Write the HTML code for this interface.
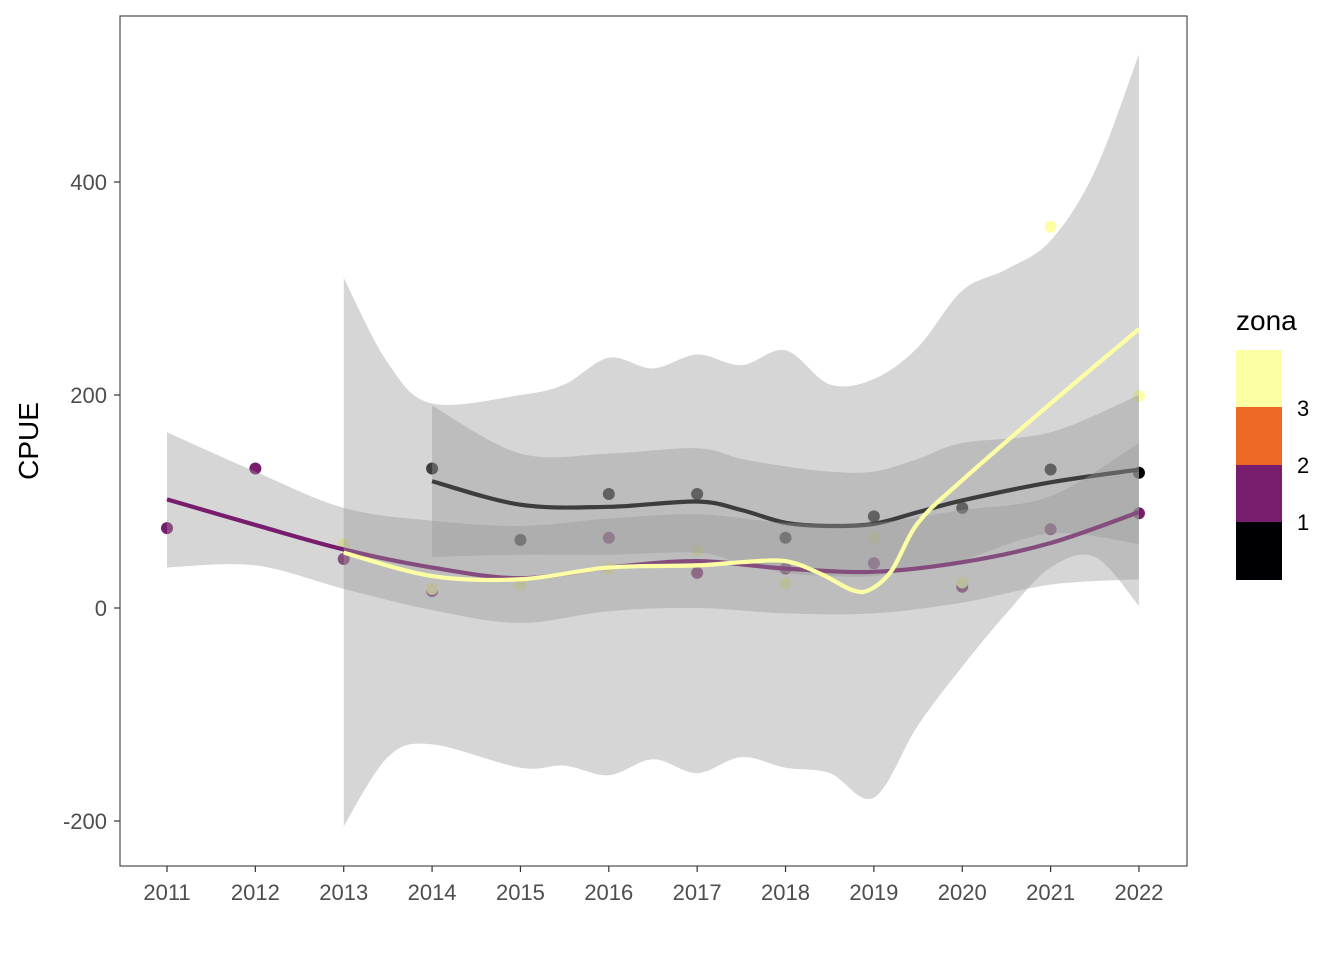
<!DOCTYPE html>
<html><head><meta charset="utf-8"><style>
body{margin:0;background:#fff;font-family:"Liberation Sans",sans-serif}
svg text{font-family:"Liberation Sans",sans-serif}
</style></head><body>
<svg id="chart" width="1344" height="960">
<rect x="0" y="0" width="1344" height="960" fill="#fff"/>
<g id="plot"></g>
<rect x="120" y="16" width="1067" height="850" fill="none" stroke="#4d4d4d" stroke-width="1.2"/>
<g id="axes"></g>
<text transform="translate(38,441) rotate(-90)" text-anchor="middle" font-size="28" fill="#000">CPUE</text>
<g>
<text x="1236" y="330" font-size="28" fill="#000">zona</text>
<rect x="1236" y="350" width="46" height="58" fill="#FCFFA4"/>
<rect x="1236" y="407" width="46" height="58" fill="#ED6925"/>
<rect x="1236" y="465" width="46" height="58" fill="#781C6D"/>
<rect x="1236" y="522" width="46" height="58" fill="#000004"/>
<text x="1297" y="416" font-size="22" fill="#000">3</text>
<text x="1297" y="473" font-size="22" fill="#000">2</text>
<text x="1297" y="530" font-size="22" fill="#000">1</text>
</g>
</svg>
<script>
const years=[2011,2012,2013,2014,2015,2016,2017,2018,2019,2020,2021,2022];
const yTicks=[-200,0,200,400];
// points
const z1Years=[2014,2015,2016,2017,2018,2019,2020,2021,2022];
const z1Vals=[131,64,107,107,66,86,94,130,127];
const z2Years=[2011,2012,2013,2014,2016,2017,2018,2019,2020,2021,2022];
const z2Vals=[75,131,46,16,66,33,37,42,20,74,89];
const z3Years=[2013,2014,2015,2016,2017,2018,2019,2020,2021,2022];
const z3Vals=[60,18,22,37,54,23,66,24,358,199];
// smooth fits
const s1X=[2014,2015,2016,2017,2017.5,2018,2018.5,2019,2019.5,2020,2021,2022];
const s1Fit=[119,97,95,100,92,80,77,79,90,101,118,130];
const s1Up=[190,145,145,150,140,133,128,128,140,155,165,200];
const s1Lo=[48,50,50,52,42,33,30,30,38,45,70,60];
const s2X=[2011,2012,2013,2014,2015,2016,2017,2018,2019,2020,2021,2022];
const s2Fit=[102,78,55,38,28,38,44,37,34,43,61,90];
const s2Up=[165,128,94,82,77,84,88,80,80,92,105,155];
const s2Lo=[38,40,18,-2,-14,-3,0,-5,-5,5,22,27];
const s3X=[2013,2014,2015,2016,2017,2017.5,2018,2018.4,2018.75,2018.95,2019.2,2019.5,2020,2021,2022];
const s3Fit=[52,30,27,38,40,43,44,32,17,17,35,80,120,192,262];
const r3X=[2013,2013.5,2014,2015,2015.5,2016,2016.5,2017,2017.5,2018,2018.5,2019,2019.5,2020,2020.5,2021,2021.5,2022];
const r3Up=[310,230,192,200,210,235,225,238,228,242,210,215,245,298,318,345,410,520];
const r3Lo=[-205,-140,-128,-150,-148,-157,-142,-155,-140,-150,-155,-178,-110,-55,-5,38,48,2];

const X=v=>167+(v-2011)*88.36;
const Y=v=>608-v*1.065;
const NS='http://www.w3.org/2000/svg';
const plot=document.getElementById('plot'),axes=document.getElementById('axes');
function mk(tag,attrs,parent){const e=document.createElementNS(NS,tag);for(const k in attrs)e.setAttribute(k,attrs[k]);parent.appendChild(e);return e;}
function curve(pts,move){let d=move?`M${pts[0][0]},${pts[0][1]}`:`L${pts[0][0]},${pts[0][1]}`;
 for(let i=0;i<pts.length-1;i++){const p0=pts[Math.max(0,i-1)],p1=pts[i],p2=pts[i+1],p3=pts[Math.min(pts.length-1,i+2)];
  const c1=[p1[0]+(p2[0]-p0[0])/6,p1[1]+(p2[1]-p0[1])/6],c2=[p2[0]-(p3[0]-p1[0])/6,p2[1]-(p3[1]-p1[1])/6];
  d+=`C${c1[0]},${c1[1]} ${c2[0]},${c2[1]} ${p2[0]},${p2[1]}`;}return d;}
function pts(xs,vs){return xs.map((x,i)=>[X(x),Y(vs[i])]);}
function points(xs,vs,col,name){xs.forEach((x,i)=>{const c=mk('circle',{cx:X(x),cy:Y(vs[i]),r:6,fill:col},plot);
 
 });}
points(z1Years,z1Vals,'#000004','point-zona-1');
points(z2Years,z2Vals,'#781C6D','point-zona-2');
points(z3Years,z3Vals,'#FCFFA4','point-zona-3');
function smooth(rx,up,lo,fx,fit,col,n){
 const up_=pts(rx,up),lo_=pts(rx,lo).reverse();
 const r=mk('path',{d:curve(up_,true)+curve(lo_,false)+'Z',fill:'#999999','fill-opacity':0.4},plot);
 
 
 const l=mk('path',{d:curve(pts(fx,fit),true),fill:'none',stroke:col,'stroke-width':4.2},plot);
 
 }
smooth(s1X,s1Up,s1Lo,s1X,s1Fit,'#000004','1');
smooth(s2X,s2Up,s2Lo,s2X,s2Fit,'#781C6D','2');
smooth(r3X,r3Up,r3Lo,s3X,s3Fit,'#FCFFA4','3');
years.forEach(y=>{mk('line',{x1:X(y),x2:X(y),y1:866,y2:872,stroke:'#333','stroke-width':1.2},axes);
 const t=mk('text',{x:X(y),y:900,'text-anchor':'middle','font-size':22,fill:'#4d4d4d'},axes);t.textContent=y;
 
 });
yTicks.forEach(v=>{mk('line',{x1:114,x2:120,y1:Y(v),y2:Y(v),stroke:'#333','stroke-width':1.2},axes);
 const t=mk('text',{x:107,y:Y(v)+8,'text-anchor':'end','font-size':22,fill:'#4d4d4d'},axes);t.textContent=v;
 
 });
</script>
</body></html>
